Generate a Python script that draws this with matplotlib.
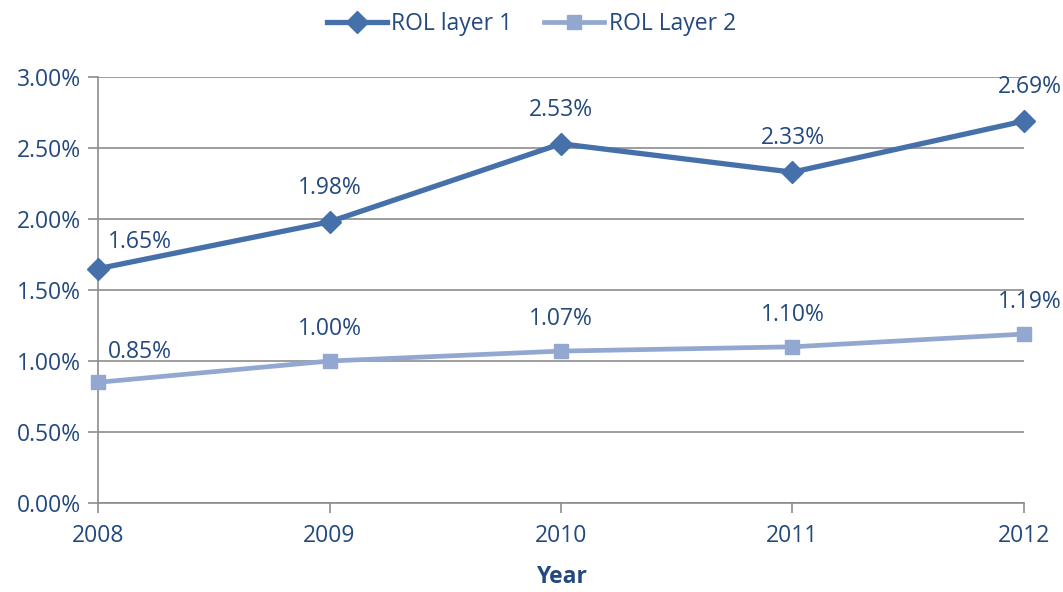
import matplotlib.pyplot as plt
import matplotlib.ticker as ticker

years = ['2008', '2009', '2010', '2011', '2012']
rol_layer1 = [1.65, 1.98, 2.53, 2.33, 2.69]
rol_layer2 = [0.85, 1.00, 1.07, 1.10, 1.19]

txt = '#23497E'
grid = '#8C8C8C'
c1 = '#4670A9'
c2 = '#93A8D0'

plt.rcParams['font.family'] = ['Open Sans', 'DejaVu Sans']
fs = 16.5

fig = plt.figure(figsize=(10.63, 5.92), dpi=100)
ax = fig.add_axes([0.0922, 0.1503, 0.8711, 0.7196])

x = list(range(len(years)))
ax.plot(x, rol_layer1, color=c1, lw=3.8, marker='D', ms=11, label='ROL layer 1',
        zorder=4, clip_on=False)
ax.plot(x, rol_layer2, color=c2, lw=3.4, marker='s', ms=9.5, label='ROL Layer 2',
        zorder=3, clip_on=False)

# data labels above points (first pushed right, last kept in figure)
def label(vals, dy, dy_first):
    for i, v in enumerate(vals):
        dx, off = 0, dy
        if i == 0:
            dx, off = 42, dy_first
        elif i == len(vals) - 1:
            dx = 6
        ax.annotate(f'{v:.2f}%', (i, v), xytext=(dx, off), textcoords='offset pixels',
                    ha='center', va='bottom', color=txt, fontsize=fs, annotation_clip=False)

label(rol_layer1, 22, 15)
label(rol_layer2, 20, 18)

ax.set_xlim(0, 4)
ax.set_ylim(0, 3.0)
ax.yaxis.set_major_locator(ticker.MultipleLocator(0.5))
ax.yaxis.set_major_formatter(ticker.FuncFormatter(lambda v, p: f'{v:.2f}%'))
ax.set_xticks(x)
ax.set_xticklabels(years)

ax.grid(axis='y', color=grid, lw=1.2)
ax.set_axisbelow(True)
for s in ['top', 'right']:
    ax.spines[s].set_visible(False)
for s in ['left', 'bottom']:
    ax.spines[s].set_color(grid)
    ax.spines[s].set_linewidth(1.2)
ax.tick_params(colors=grid, labelcolor=txt, length=7, width=1.2, labelsize=fs)
ax.tick_params(axis='x', pad=8)
ax.tick_params(axis='y', pad=5)

ax.set_xlabel('Year', color=txt, fontweight='bold', fontsize=fs, labelpad=12)

fig.legend(loc='upper center', bbox_to_anchor=(0.5, 1.015), ncol=2, frameon=False,
           handlelength=2.6, columnspacing=1.4, handletextpad=0.2, labelcolor=txt, fontsize=fs)

fig.savefig('out.png', dpi=100)
